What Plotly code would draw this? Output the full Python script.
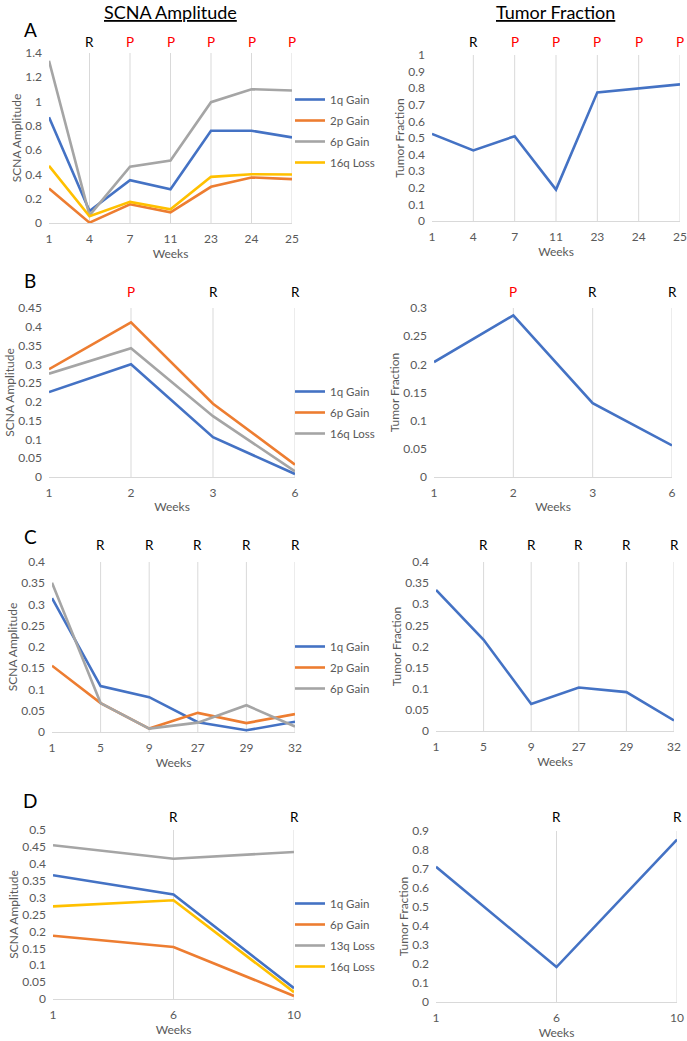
import plotly.graph_objects as go

# ---------------- data ----------------
weeks_A = ["1", "4", "7", "11", "23", "24", "25"]
marks_A = ["", "R", "P", "P", "P", "P", "P"]
A_1q_gain = [0.871, 0.099, 0.353, 0.278, 0.760, 0.760, 0.705]
A_2p_gain = [0.284, 0.003, 0.154, 0.088, 0.298, 0.375, 0.361]
A_6p_gain = [1.336, 0.063, 0.463, 0.515, 0.995, 1.102, 1.091]
A_16q_loss = [0.471, 0.055, 0.174, 0.113, 0.380, 0.402, 0.400]
A_tumor = [0.525, 0.425, 0.511, 0.189, 0.775, 0.799, 0.823]

weeks_B = ["1", "2", "3", "6"]
marks_B = ["", "P", "R", "R"]
B_1q_gain = [0.226, 0.300, 0.106, 0.008]
B_6p_gain = [0.287, 0.412, 0.195, 0.033]
B_16q_loss = [0.275, 0.343, 0.162, 0.015]
B_tumor = [0.204, 0.287, 0.131, 0.056]

weeks_C = ["1", "5", "9", "27", "29", "32"]
marks_C = ["", "R", "R", "R", "R", "R"]
C_1q_gain = [0.315, 0.108, 0.082, 0.023, 0.004, 0.024]
C_2p_gain = [0.156, 0.068, 0.008, 0.045, 0.021, 0.042]
C_6p_gain = [0.351, 0.068, 0.008, 0.022, 0.063, 0.013]
C_tumor = [0.334, 0.216, 0.064, 0.103, 0.092, 0.025]

weeks_D = ["1", "6", "10"]
marks_D = ["", "R", "R"]
D_1q_gain = [0.366, 0.309, 0.032]
D_6p_gain = [0.187, 0.154, 0.009]
D_13q_loss = [0.455, 0.415, 0.435]
D_16q_loss = [0.274, 0.292, 0.020]
D_tumor = [0.712, 0.184, 0.855]

# ---------------- styling ----------------
W, H = 687, 1041
FONT = "Lato"
BLUE, ORANGE, GRAY, YELLOW = "#4472C4", "#ED7D31", "#A5A5A5", "#FFC000"
TICK = "#595959"
GRID = "#D9D9D9"


def px(X):      # page x pixel -> paper fraction
    return X / W


def py(Y):      # page y pixel -> paper fraction
    return 1 - Y / H


rows = [
    dict(letter="A", weeks=weeks_A, marks=marks_A,
         series=[("1q Gain", A_1q_gain, BLUE), ("2p Gain", A_2p_gain, ORANGE),
                 ("6p Gain", A_6p_gain, GRAY), ("16q Loss", A_16q_loss, YELLOW)],
         tumor=A_tumor,
         L=dict(x0=49, x1=292, top=53, bot=223, ymax=1.4, dtick=0.2),
         R=dict(x0=432, x1=680, top=55, bot=221, ymax=1.0, dtick=0.1),
         legend_c=100, mark_y=42, letter_y=29),
    dict(letter="B", weeks=weeks_B, marks=marks_B,
         series=[("1q Gain", B_1q_gain, BLUE), ("6p Gain", B_6p_gain, ORANGE),
                 ("16q Loss", B_16q_loss, GRAY)],
         tumor=B_tumor,
         L=dict(x0=49, x1=295, top=308, bot=477, ymax=0.45, dtick=0.05),
         R=dict(x0=434, x1=672, top=308, bot=477, ymax=0.3, dtick=0.05),
         legend_c=392, mark_y=292, letter_y=281),
    dict(letter="C", weeks=weeks_C, marks=marks_C,
         series=[("1q Gain", C_1q_gain, BLUE), ("2p Gain", C_2p_gain, ORANGE),
                 ("6p Gain", C_6p_gain, GRAY)],
         tumor=C_tumor,
         L=dict(x0=52, x1=295, top=562, bot=732, ymax=0.4, dtick=0.05),
         R=dict(x0=436, x1=674, top=562, bot=731, ymax=0.4, dtick=0.05),
         legend_c=647, mark_y=545, letter_y=537),
    dict(letter="D", weeks=weeks_D, marks=marks_D,
         series=[("1q Gain", D_1q_gain, BLUE), ("6p Gain", D_6p_gain, ORANGE),
                 ("13q Loss", D_13q_loss, GRAY), ("16q Loss", D_16q_loss, YELLOW)],
         tumor=D_tumor,
         L=dict(x0=53, x1=294, top=830, bot=999, ymax=0.5, dtick=0.05),
         R=dict(x0=436, x1=677, top=831, bot=1002, ymax=0.9, dtick=0.1),
         legend_c=904, mark_y=817, letter_y=800),
]

fig = go.Figure()
layout = dict(
    width=W, height=H, margin=dict(l=0, r=0, t=0, b=0),
    paper_bgcolor="white", plot_bgcolor="white",
    font=dict(family=FONT, color=TICK, size=12),
    showlegend=True,
)
annotations = []
shapes = []

ax_i = 0
for r_i, row in enumerate(rows):
    n = len(row["weeks"])
    idx = list(range(n))
    for side in ("L", "R"):
        ax_i += 1
        p = row[side]
        xa = "xaxis" if ax_i == 1 else f"xaxis{ax_i}"
        ya = "yaxis" if ax_i == 1 else f"yaxis{ax_i}"
        xr = "x" if ax_i == 1 else f"x{ax_i}"
        yr = "y" if ax_i == 1 else f"y{ax_i}"
        layout[xa] = dict(
            domain=[px(p["x0"]), px(p["x1"])], anchor=yr, range=[0, n - 1],
            tickvals=idx, ticktext=row["weeks"], showgrid=False,
            showline=True, linecolor=GRID, linewidth=1, ticks="",
            zeroline=False, tickfont=dict(size=12, color=TICK),
            ticklabelstandoff=5, automargin=False,
            title=dict(text="Weeks", font=dict(size=12, color=TICK), standoff=3),
            fixedrange=True,
        )
        layout[ya] = dict(
            domain=[py(p["bot"]), py(p["top"])], anchor=xr,
            range=[0, p["ymax"]], dtick=p["dtick"],
            showgrid=False, zeroline=False, showline=False, ticks="",
            tickfont=dict(size=12, color=TICK), ticklabelstandoff=6,
            automargin=False,
            title=dict(text="SCNA Amplitude" if side == "L" else "Tumor Fraction",
                       font=dict(size=12, color=TICK), standoff=1),
            fixedrange=True,
        )
        # vertical gridlines + R/P markers at treatment timepoints
        for i, m in enumerate(row["marks"]):
            if not m:
                continue
            shapes.append(dict(type="line", xref=xr, yref=f"{yr} domain",
                               x0=i, x1=i, y0=0, y1=1,
                               line=dict(color=GRID, width=1), layer="below"))
            annotations.append(dict(
                xref=xr, yref="paper", x=i, y=py(row["mark_y"]),
                text=m, showarrow=False, xanchor="center", yanchor="middle",
                font=dict(family=FONT, size=13.5,
                          color="#FF0000" if m == "P" else "#000000")))
        if side == "L":
            leg = "legend" if r_i == 0 else f"legend{r_i + 1}"
            for name, vals, col in row["series"]:
                fig.add_trace(go.Scatter(
                    x=idx, y=vals, mode="lines", name=name,
                    line=dict(color=col, width=2.6), xaxis=xr, yaxis=yr,
                    legend=leg, legendgroup=f"{row['letter']}{name}",
                    hoverinfo="skip"))
            layout[leg] = dict(
                x=px(290), y=py(row["legend_c"] - 15), xanchor="left", yanchor="top",
                bgcolor="rgba(0,0,0,0)", font=dict(size=11.5, color=TICK),
                tracegroupgap=2, itemwidth=30,
            )
        else:
            fig.add_trace(go.Scatter(
                x=idx, y=row["tumor"], mode="lines", name="Tumor Fraction",
                line=dict(color=BLUE, width=2.6), xaxis=xr, yaxis=yr,
                showlegend=False, hoverinfo="skip"))
    annotations.append(dict(
        xref="paper", yref="paper", x=px(30), y=py(row["letter_y"]),
        text=row["letter"], showarrow=False, xanchor="center", yanchor="middle",
        font=dict(family=FONT, size=19, color="black")))

annotations.append(dict(xref="paper", yref="paper", x=px(170), y=py(12),
                        text="<u>SCNA Amplitude</u>", showarrow=False,
                        xanchor="center", yanchor="middle",
                        font=dict(family=FONT, size=18, color="black")))
annotations.append(dict(xref="paper", yref="paper", x=px(555), y=py(12),
                        text="<u>Tumor Fraction</u>", showarrow=False,
                        xanchor="center", yanchor="middle",
                        font=dict(family=FONT, size=18, color="black")))

layout["annotations"] = annotations
layout["shapes"] = shapes
fig.update_layout(**layout)
fig.write_html("out.html", config=dict(displayModeBar=False),
               post_script="document.body.style.margin='0';"
                           "document.body.style.overflow='hidden';")
